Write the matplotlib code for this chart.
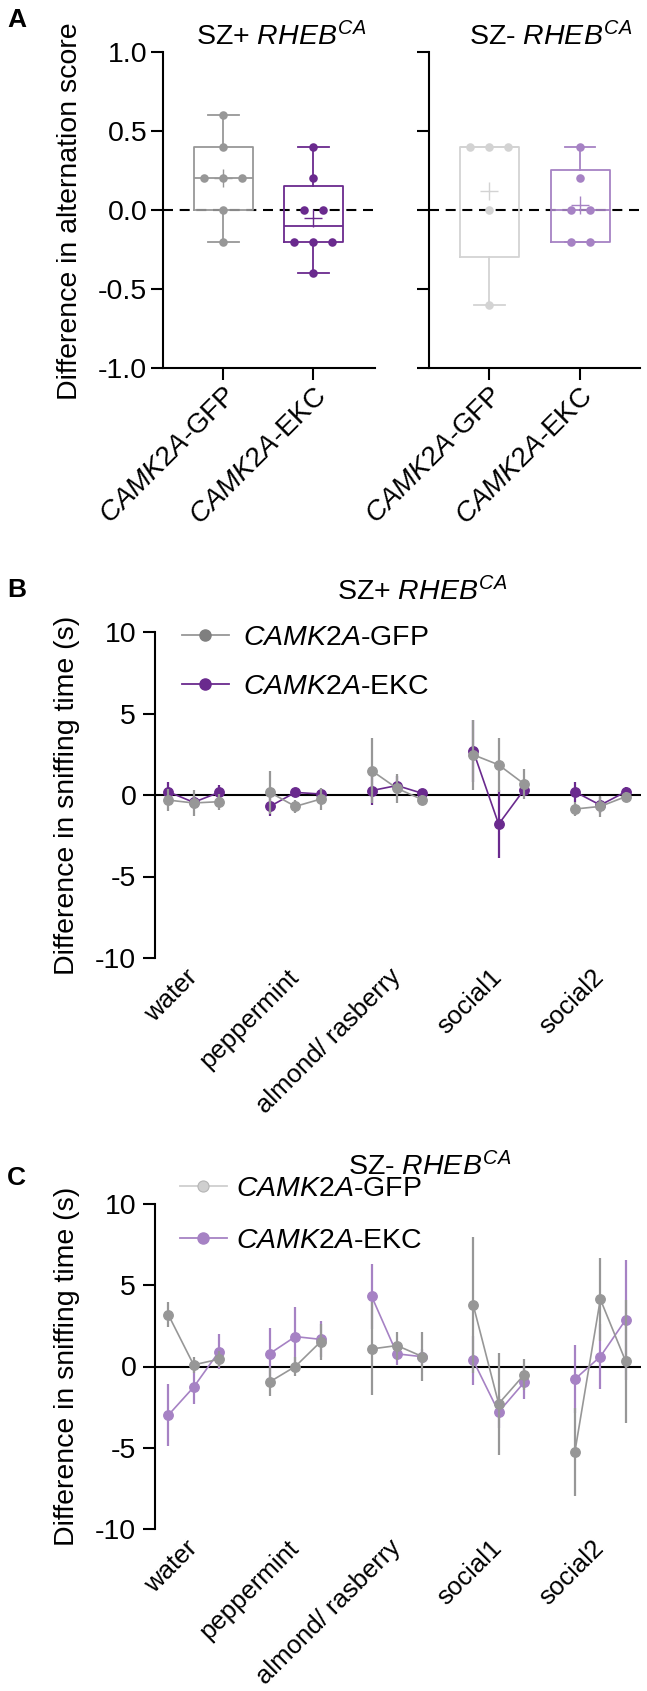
import numpy as np
import matplotlib
matplotlib.use('Agg')
import matplotlib.pyplot as plt
from matplotlib.lines import Line2D

plt.rcParams['font.family'] = ['Liberation Sans', 'DejaVu Sans']
plt.rcParams['mathtext.fontset'] = 'custom'
plt.rcParams['mathtext.rm'] = 'Liberation Sans'
plt.rcParams['mathtext.it'] = 'Liberation Sans:italic'
plt.rcParams['mathtext.bf'] = 'Liberation Sans:bold'
plt.rcParams['axes.unicode_minus'] = False

# ---------------- data ----------------
a_labels = ['$\\mathit{CAMK2A}$-GFP', '$\\mathit{CAMK2A}$-EKC']
a_yticks = [-1.0, -0.5, 0.0, 0.5, 1.0]
a_ytick_labels = ['-1.0', '-0.5', '0.0', '0.5', '1.0']
a_szp_gfp = [0.6, 0.4, 0.2, 0.2, 0.2, 0.0, -0.2]
a_szp_ekc = [0.4, 0.2, 0.0, 0.0, -0.2, -0.2, -0.2, -0.4]
a_szm_gfp = [0.4, 0.4, 0.4, 0.0, -0.6]
a_szm_ekc = [0.4, 0.2, 0.0, 0.0, -0.2, -0.2]

odors = ['water', 'peppermint', 'almond/ rasberry', 'social1', 'social2']
bc_yticks = [-10, -5, 0, 5, 10]

b_gfp_mean = [[-0.31, -0.49, -0.41], [0.16, -0.70, -0.25], [1.5, 0.41, -0.29],
              [2.47, 1.85, 0.68], [-0.86, -0.70, -0.10]]
b_gfp_err = [[0.65, 0.78, 0.5], [1.3, 0.4, 0.65], [2.0, 0.9, 0.3],
             [2.15, 1.65, 0.93], [0.4, 0.65, 0.3]]
b_ekc_mean = [[0.2, -0.45, 0.16], [-0.70, 0.16, 0.06], [0.27, 0.58, 0.1],
              [2.7, -1.79, 0.33], [0.2, -0.62, 0.2]]
b_ekc_err = [[0.6, 0.4, 0.45], [0.6, 0.2, 0.3], [0.9, 0.6, 0.2],
             [1.9, 2.1, 0.4], [0.6, 0.5, 0.3]]

c_gfp_mean = [[3.2, 0.1, 0.45], [-0.94, 0.0, 1.53], [1.08, 1.29, 0.61],
              [3.78, -2.29, -0.51], [-5.24, 4.14, 0.31]]
c_gfp_err = [[0.77, 0.5, 0.5], [0.9, 0.6, 1.1], [2.86, 0.86, 1.5],
             [4.2, 3.15, 0.96], [2.7, 2.55, 3.77]]
c_ekc_mean = [[-3.0, -1.27, 0.92], [0.8, 1.84, 1.67], [4.33, 0.78, 0.6],
              [0.37, -2.8, -0.98], [-0.78, 0.61, 2.88]]
c_ekc_err = [[1.9, 1.05, 1.06], [1.6, 1.8, 1.1], [2.0, 0.7, 0.5],
             [1.5, 1.0, 1.0], [2.1, 2.0, 3.7]]

# colours
GRAY = '#979797'
PURPLE = '#6a2a8e'
LGRAY = '#d3d3d3'
LPURPLE = '#a682c4'
LEG_LGRAY = '#cfcfcf'

FS = 20.5
FS_XB = 18.5
W, H = 647, 1691
fig = plt.figure(figsize=(W / 100, H / 100), dpi=100)


def ax_px(x0, x1, ytop, ybot):
    return fig.add_axes([x0 / W, 1 - ybot / H, (x1 - x0) / W, (ybot - ytop) / H])


def style_axes(ax):
    for s in ['top', 'right']:
        ax.spines[s].set_visible(False)
    for s in ['left', 'bottom']:
        ax.spines[s].set_linewidth(1.5)
    ax.tick_params(width=1.5, length=8.5, labelsize=FS, pad=3)
    ax.tick_params(axis='x', labelsize=20, pad=2)


def swarm_x(vals, center, step=0.21):
    vals = np.asarray(vals)
    xs = np.empty(len(vals))
    for v in np.unique(vals):
        idx = np.where(vals == v)[0]
        k = len(idx)
        xs[idx] = center + (np.arange(k) - (k - 1) / 2) * step
    return xs


def box_stats(vals):
    q1, med, q3 = np.percentile(vals, [25, 50, 75], method='weibull')
    return dict(med=med, q1=q1, q3=q3, whislo=min(vals), whishi=max(vals),
                mean=float(np.mean(vals)), fliers=[])


def draw_box(ax, vals, pos, c):
    lw = 1.3
    ax.bxp([box_stats(vals)], positions=[pos], widths=0.65, capwidths=0.34,
           showmeans=True, meanline=False,
           boxprops=dict(color=c, lw=lw), whiskerprops=dict(color=c, lw=lw),
           capprops=dict(color=c, lw=lw), medianprops=dict(color=c, lw=lw),
           meanprops=dict(marker='+', markeredgecolor=c, markersize=13,
                          markeredgewidth=1.0, linestyle='none'),
           zorder=2)
    ax.scatter(swarm_x(vals, pos), vals, s=38, color=c, zorder=4, linewidths=0)


# ---------------- panel A ----------------
axA1 = ax_px(163.3, 375, 51.7, 368.3)
axA2 = ax_px(429.3, 640, 51.7, 368.3)
for ax, (g, e), (cg, ce) in [(axA1, (a_szp_gfp, a_szp_ekc), (GRAY, PURPLE)),
                              (axA2, (a_szm_gfp, a_szm_ekc), (LGRAY, LPURPLE))]:
    style_axes(ax)
    ax.axhline(0, color='black', lw=1.5, ls=(0, (4.8, 3.2)), zorder=1)
    draw_box(ax, g, 0, cg)
    draw_box(ax, e, 1, ce)
    ax.set_ylim(-1, 1)
    ax.set_yticks(a_yticks)
    ax.set_xticks([0, 1])
    ax.set_xticklabels(a_labels, rotation=45, ha='right', va='top',
                       rotation_mode='anchor')
axA1.set_xlim(-0.667, 1.686)
axA2.set_xlim(-0.66, 1.66)
axA1.set_yticklabels(a_ytick_labels)
axA2.set_yticklabels([''] * len(a_yticks))

fig.text(70 / W, 1 - 211 / H, 'Difference in alternation score', rotation=90,
         ha='center', va='center', fontsize=FS)
fig.text(281 / W, 1 - 45 / H, 'SZ+ $\\mathit{RHEB}^{\\mathit{CA}}$',
         ha='center', va='baseline', fontsize=FS)
fig.text(551 / W, 1 - 45 / H, 'SZ- $\\mathit{RHEB}^{\\mathit{CA}}$',
         ha='center', va='baseline', fontsize=FS)
fig.text(7 / W, 1 - 27 / H, 'A', fontsize=19, fontweight='bold', va='baseline')


# ---------------- panels B, C ----------------
def line_panel(ax, gm, ge, em, ee, cg, ce):
    for s in ['top', 'right', 'bottom']:
        ax.spines[s].set_visible(False)
    ax.spines['left'].set_linewidth(1.5)
    ax.tick_params(axis='y', width=1.5, length=8.5, labelsize=FS, pad=5)
    ax.tick_params(axis='x', length=0, labelsize=FS_XB, pad=11)
    ax.axhline(0, color='black', lw=1.5, zorder=1)
    for i in range(len(odors)):
        xs = 4 * i + np.arange(3)
        ax.errorbar(xs, em[i], yerr=ee[i], color=ce, marker='o', ms=6.8,
                    lw=1.2, elinewidth=1.6, capsize=0, zorder=3)
        ax.errorbar(xs, gm[i], yerr=ge[i], color=cg, marker='o', ms=6.8,
                    lw=1.2, elinewidth=1.6, capsize=0, zorder=4)
    ax.set_ylim(-10, 10)
    ax.set_yticks(bc_yticks)
    ax.set_xlim(-0.52, 18.6)
    ax.set_xticks([4 * i + 1 for i in range(len(odors))])
    ax.set_xticklabels(odors, rotation=45, ha='right', va='center',
                       rotation_mode='anchor')


axB = ax_px(155, 641, 632, 958)
line_panel(axB, b_gfp_mean, b_gfp_err, b_ekc_mean, b_ekc_err, GRAY, PURPLE)
axC = ax_px(155, 641, 1204, 1529)
line_panel(axC, c_gfp_mean, c_gfp_err, c_ekc_mean, c_ekc_err, GRAY, LPURPLE)

leg_labels = ['$\\mathit{CAMK2A}$-GFP', '$\\mathit{CAMK2A}$-EKC']
hB = [Line2D([], [], color=GRAY, marker='o', ms=8, lw=1.3, markerfacecolor='#7f7f7f',
             markeredgecolor='#7f7f7f'),
      Line2D([], [], color=PURPLE, marker='o', ms=8, lw=1.3)]
axB.legend(hB, leg_labels, loc='upper left', bbox_to_anchor=(182 / W, 1 - 625 / H),
           bbox_transform=fig.transFigure, frameon=False, fontsize=FS,
           handlelength=1.65, handletextpad=0.5, labelspacing=0.8,
           borderpad=0, borderaxespad=0)
hC = [Line2D([], [], color=LEG_LGRAY, marker='o', ms=8, lw=1.3,
             markerfacecolor='#cfcfcf', markeredgecolor='#b5b5b5', markeredgewidth=0.8),
      Line2D([], [], color=LPURPLE, marker='o', ms=8, lw=1.3)]
axC.legend(hC, leg_labels, loc='upper left', bbox_to_anchor=(180 / W, 1 - 1176 / H),
           bbox_transform=fig.transFigure, frameon=False, fontsize=FS,
           handlelength=1.65, handletextpad=0.3, labelspacing=0.9,
           borderpad=0, borderaxespad=0)

fig.text(67 / W, 1 - 795 / H, 'Difference in sniffing time (s)', rotation=90,
         ha='center', va='center', fontsize=FS)
fig.text(67 / W, 1 - 1366 / H, 'Difference in sniffing time (s)', rotation=90,
         ha='center', va='center', fontsize=FS)
fig.text(422 / W, 1 - 600 / H, 'SZ+ $\\mathit{RHEB}^{\\mathit{CA}}$',
         ha='center', va='baseline', fontsize=FS)
fig.text(430 / W, 1 - 1175 / H, 'SZ- $\\mathit{RHEB}^{\\mathit{CA}}$',
         ha='center', va='baseline', fontsize=FS)
fig.text(7 / W, 1 - 597 / H, 'B', fontsize=19, fontweight='bold', va='baseline')
fig.text(7 / W, 1 - 1185 / H, 'C', fontsize=19, fontweight='bold', va='baseline')

fig.savefig('out.png', dpi=100)
